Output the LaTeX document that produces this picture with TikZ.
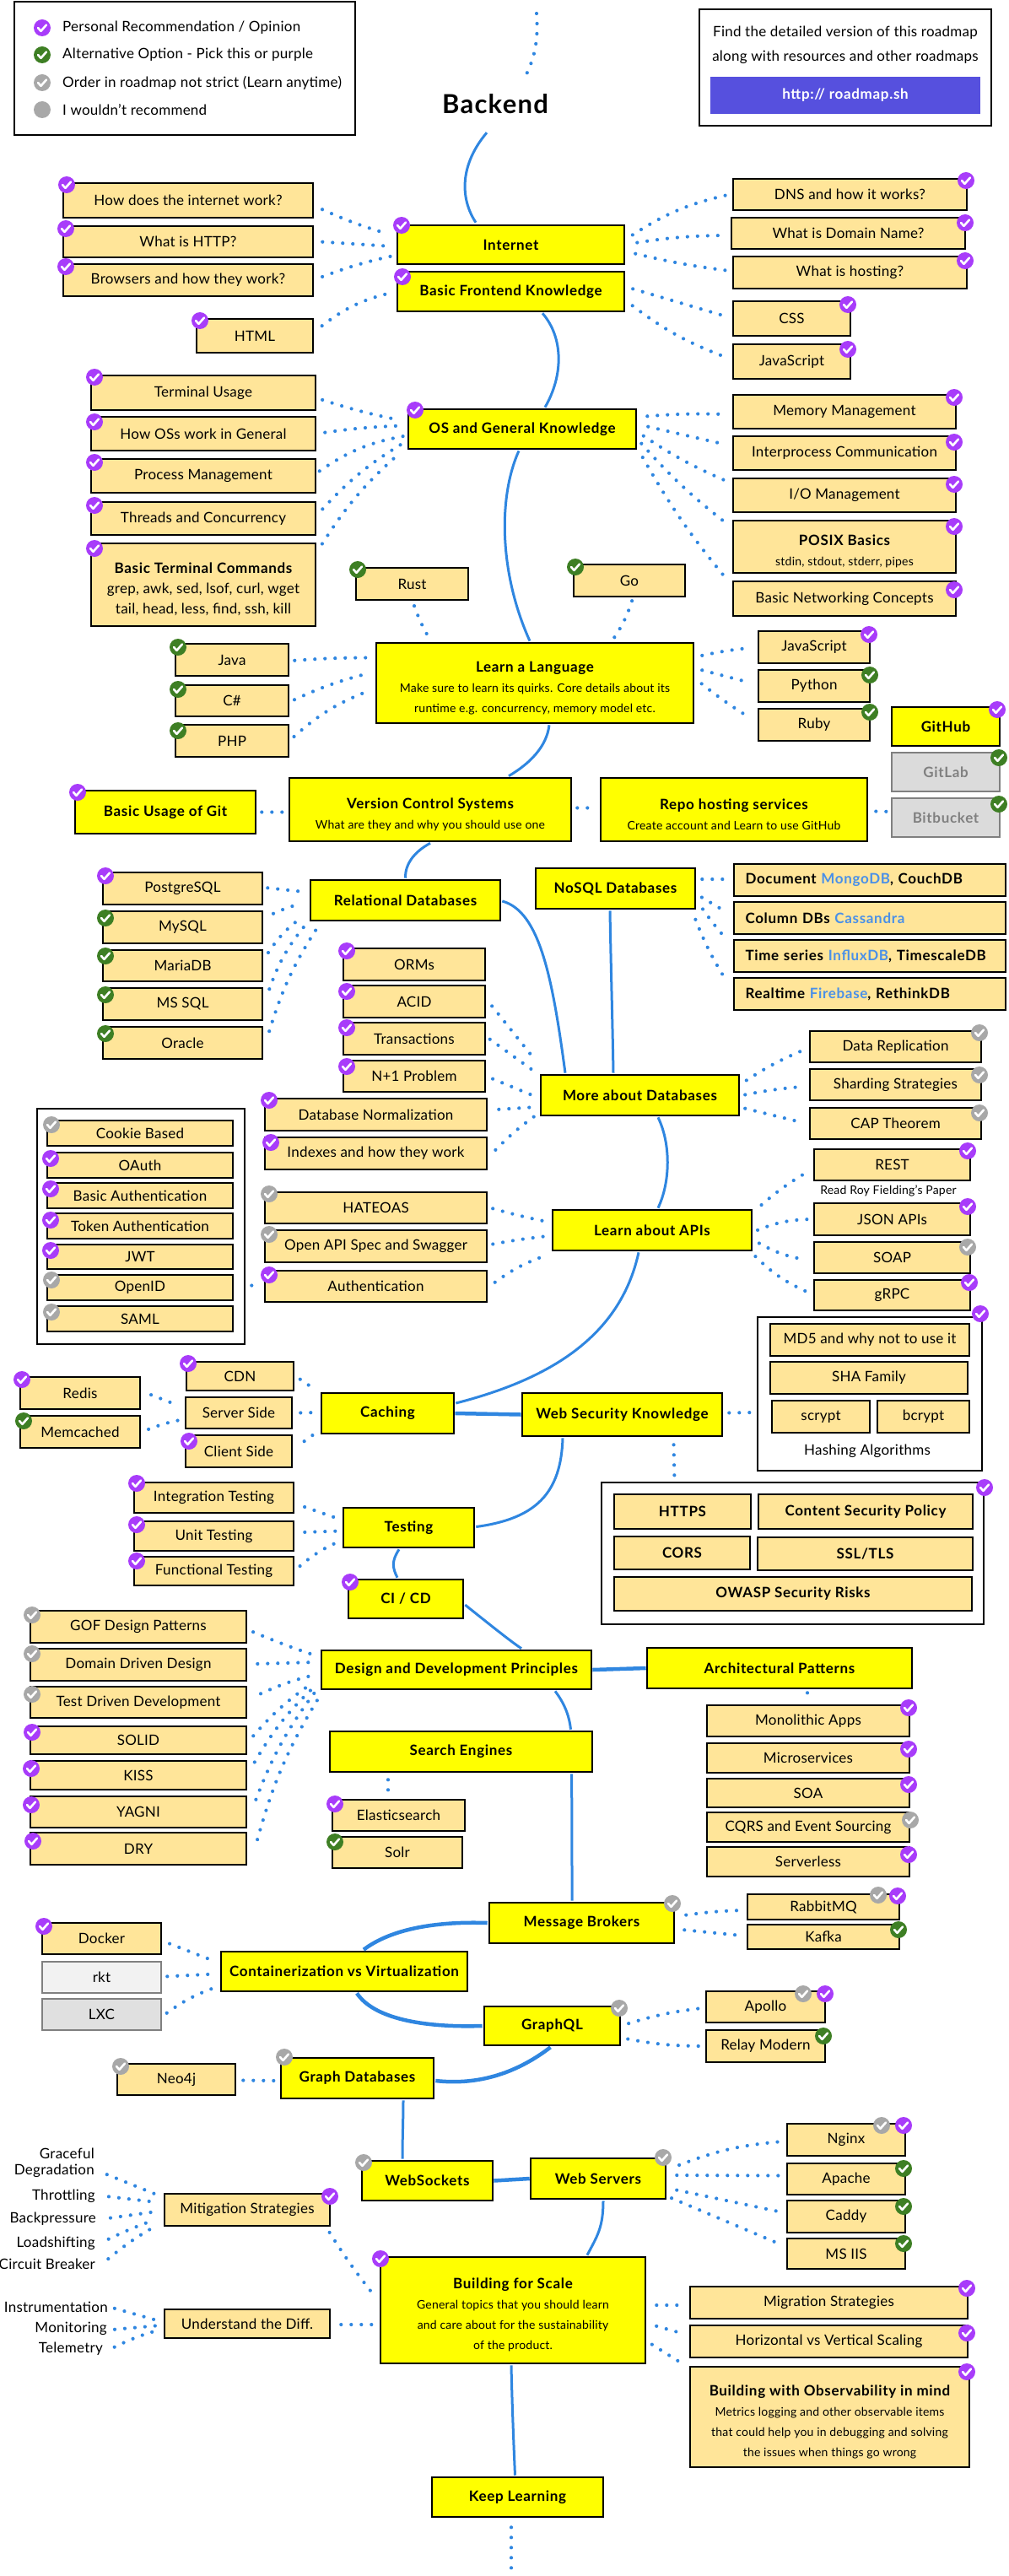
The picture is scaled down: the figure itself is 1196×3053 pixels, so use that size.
\documentclass[tikz,border=0pt]{standalone}
\usepackage{fontspec}
\setmainfont{Lato}[LetterSpace=1.5]
\newfontfamily\hb{Lato Bold}[LetterSpace=4]
\usetikzlibrary{calc}
\definecolor{tanc}{HTML}{FFE599}
\definecolor{yel}{HTML}{FFFF00}
\definecolor{lnk}{HTML}{2F86E0}
\definecolor{pur}{HTML}{A83CFA}
\definecolor{grn}{HTML}{3E7F24}
\definecolor{gry}{HTML}{A8A8A8}
\definecolor{navy}{HTML}{5650DE}
\definecolor{lblu}{HTML}{4A90E8}
\definecolor{edg}{HTML}{808080}
\newcommand\nf{\fontsize{17}{24}\selectfont}
\newcommand\smf{\fontsize{14}{24}\selectfont}
\newcommand\hd[1]{\rule{0pt}{24pt}{\hb\nf #1}}
\tikzset{
 base/.style={draw=black,line width=2.6pt,inner sep=0pt,align=center,font=\nf,text=black},
 tanb/.style={base,fill=tanc},
 yelb/.style={base,fill=yel,font=\hb\nf},
 ybox/.style={base,fill=yel},
 grayb/.style={base,draw=edg,fill=#1,text=edg},
 frame/.style={base,fill=white},
 lefttxt/.style={align=left,text width=295pt,inner xsep=13.5pt,minimum width=0pt,font=\hb\nf},
 plain/.style={inner sep=0pt,align=center,font=\nf,text=black},
 dotc/.style={draw=lnk,line width=4.2pt,line cap=round,dash pattern=on 0pt off 12pt,shorten <=3pt,shorten >=3pt},
 solc/.style={draw=lnk,line width=3pt},
 chk/.style={draw=white,line width=2.6pt,line cap=round,line join=round},
 badge/.style={circle,inner sep=0pt,minimum size=20pt,draw=none}
}
\newcount\bcnt
\newcommand\bx[7][tanb]{\node[#1,minimum width={(#5-#3)*1pt},minimum height={(#6-#4)*1pt}] (#2) at ({(#3+#5)/2},{(#4+#6)/2}) {#7};}
\newcommand\bdg[3]{\global\advance\bcnt by 1\node[badge,fill=#1] (bd\the\bcnt) at (#2,#3) {};\draw[chk,shift={(#2,#3)}] (-5,0) -- (-1.5,3.8) -- (5,-3.5);}
\newcommand\dotl[5]{\draw[dotc] ([shift={(#2)}]#1) to[bend left=#5] ([shift={(#4)}]#3);}
\newcommand\scv[6]{\draw[solc] ([shift={(#2)}]#1) .. controls (#5) and (#6) .. ([shift={(#4)}]#3);}
\begin{document}
\begin{tikzpicture}[x=1pt,y=-1pt]
\useasboundingbox (0,0) rectangle (1196,3053);
% legend
\bx[frame]{legend}{17}{2}{421}{160}{}
\node[plain,anchor=west] (l1) at (74,33) {Personal Recommendation / Opinion};
\node[plain,anchor=west] (l2) at (74,65) {Alternative Option - Pick this or purple};
\node[plain,anchor=west] (l3) at (74,98) {Order in roadmap not strict (Learn anytime)};
\node[plain,anchor=west] (l4) at (74,130) {I wouldn't recommend};
\bdg{pur}{50}{33}\bdg{grn}{50}{65}\bdg{gry}{50}{98}
\node[badge,fill=gry] (lg4) at (50,130) {};
% info
\bx[frame]{info}{829}{11}{1175}{149}{}
\node[plain] (i1) at (1002,39) {Find the detailed version of this roadmap};
\node[plain] (i2) at (1002,68) {along with resources and other roadmaps};
\node[draw=none,fill=navy,inner sep=0pt,minimum width=320pt,minimum height=44pt,text=white,font=\hb\nf] (i3) at (1002,113) {http:// roadmap.sh};
% title
\bx[plain,font=\hb\fontsize{31}{36}\selectfont]{backend}{520}{100}{654}{146}{Backend}
\coordinate (topa) at (636,16);
\coordinate (topb) at (624,88);
\draw[dotc,shorten <=0pt,shorten >=0pt] (topa) .. controls (638,45) and (635,65) .. (topb);
% boxes
\bx{how}{75}{217}{371}{258}{How does the internet work?}
\bx{http}{75}{268}{371}{305}{What is HTTP?}
\bx{brow}{75}{313}{371}{351}{Browsers and how they work?}
\bx[yelb]{internet}{471}{267}{740}{313}{Internet}
\bx[yelb]{basicfe}{471}{322}{740}{369}{Basic Frontend Knowledge}
\bx{html}{233}{378}{371}{418}{HTML}
\bx{dns}{869}{212}{1146}{249}{DNS and how it works?}
\bx{domain}{867}{258}{1144}{295}{What is Domain Name?}
\bx{hosting}{869}{304}{1146}{342}{What is hosting?}
\bx{css}{869}{357}{1008}{398}{CSS}
\bx{js}{869}{408}{1008}{449}{JavaScript}
\bx{term}{108}{445}{374}{486}{Terminal Usage}
\bx{howos}{108}{494}{374}{534}{How OSs work in General}
\bx[yelb]{os}{484}{485}{754}{532}{OS and General Knowledge}
\bx{mem}{869}{468}{1133}{508}{Memory Management}
\bx{proc}{108}{544}{374}{584}{Process Management}
\bx{thr}{108}{595}{374}{634}{Threads and Concurrency}
\bx{cmds}{108}{644}{374}{742}{\hd{Basic Terminal Commands}\\grep, awk, sed, lsof, curl, wget\\tail, head, less, find, ssh, kill}
\bx{ipc}{869}{517}{1133}{557}{Interprocess Communication}
\bx{io}{869}{567}{1133}{607}{I/O Management}
\bx{posix}{869}{617}{1133}{679}{\hd{POSIX Basics}\\\smf stdin, stdout, stderr, pipes}
\bx{net}{869}{689}{1133}{730}{Basic Networking Concepts}
\bx{rust}{422}{673}{555}{711}{Rust}
\bx{go}{680}{669}{812}{707}{Go}
\bx[ybox]{learn}{446}{762}{822}{857}{\hd{Learn a Language}\\\smf Make sure to learn its quirks. Core details about its\\\smf runtime e.g. concurrency, memory model etc.}
\bx{java}{208}{763}{342}{801}{Java}
\bx{csharp}{208}{812}{342}{849}{C\#}
\bx{php}{208}{859}{342}{897}{PHP}
\bx{ljs}{899}{748}{1031}{786}{JavaScript}
\bx{python}{899}{794}{1031}{832}{Python}
\bx{ruby}{899}{840}{1031}{878}{Ruby}
\bx[yelb]{github}{1057}{838}{1185}{884}{GitHub}
\bx[grayb=black!14,font=\hb\nf]{gitlab}{1057}{892}{1185}{938}{GitLab}
\bx[grayb=black!14,font=\hb\nf]{bitb}{1057}{946}{1185}{992}{Bitbucket}
\bx[yelb]{gitu}{89}{937}{303}{988}{Basic Usage of Git}
\bx[ybox]{vcs}{343}{922}{677}{997}{\hd{Version Control Systems}\\\smf What are they and why you should use one}
\bx[ybox]{repo}{712}{922}{1028}{997}{\hd{Repo hosting services}\\\smf Create account and Learn to use GitHub}
\bx{pg}{122}{1034}{311}{1072}{PostgreSQL}
\bx{mysql}{122}{1080}{311}{1118}{MySQL}
\bx{maria}{122}{1126}{311}{1163}{MariaDB}
\bx{mssql}{122}{1171}{311}{1209}{MS SQL}
\bx{oracle}{122}{1217}{311}{1255}{Oracle}
\bx[yelb]{rel}{368}{1043}{593}{1091}{Relational Databases}
\bx[yelb]{nosql}{635}{1029}{824}{1077}{NoSQL Databases}
\bx[tanb,lefttxt]{doc}{870}{1024}{1192}{1062}{Document \textcolor{lblu}{MongoDB}, CouchDB}
\bx[tanb,lefttxt]{col}{870}{1069}{1192}{1107}{Column DBs \textcolor{lblu}{Cassandra}}
\bx[tanb,lefttxt]{ts}{870}{1114}{1192}{1152}{Time series \textcolor{lblu}{InfluxDB}, TimescaleDB}
\bx[tanb,lefttxt]{rt}{870}{1159}{1192}{1197}{Realtime \textcolor{lblu}{Firebase}, RethinkDB}
\bx{orm}{407}{1124}{575}{1162}{ORMs}
\bx{acid}{407}{1168}{575}{1206}{ACID}
\bx{trans}{407}{1212}{575}{1250}{Transactions}
\bx{nplus}{407}{1257}{575}{1294}{N+1 Problem}
\bx{norm}{314}{1302}{577}{1340}{Database Normalization}
\bx{idx}{314}{1348}{577}{1386}{Indexes and how they work}
\bx[yelb]{more}{641}{1274}{876}{1322}{More about Databases}
\bx{repl}{960}{1222}{1163}{1259}{Data Replication}
\bx{shard}{960}{1267}{1163}{1304}{Sharding Strategies}
\bx{cap}{960}{1313}{1163}{1350}{CAP Theorem}
\bx{rest}{965}{1362}{1150}{1399}{REST}
\node[plain,font=\fontsize{14}{16}\selectfont] (roy) at (1053,1411) {Read Roy Fielding's Paper};
\bx{json}{965}{1426}{1150}{1464}{JSON APIs}
\bx{soap}{965}{1472}{1150}{1509}{SOAP}
\bx{grpc}{965}{1517}{1150}{1553}{gRPC}
\bx[frame]{authg}{44}{1314}{290}{1593}{}
\bx{cookie}{56}{1328}{276}{1358}{Cookie Based}
\bx{oauth}{56}{1366}{276}{1396}{OAuth}
\bx{basica}{56}{1402}{276}{1432}{Basic Authentication}
\bx{token}{56}{1438}{276}{1468}{Token Authentication}
\bx{jwt}{56}{1475}{276}{1504}{JWT}
\bx{oid}{56}{1511}{276}{1541}{OpenID}
\bx{saml}{56}{1548}{276}{1578}{SAML}
\bx{hate}{314}{1413}{577}{1450}{HATEOAS}
\bx{oapi}{314}{1458}{577}{1496}{Open API Spec and Swagger}
\bx{authn}{314}{1506}{577}{1543}{Authentication}
\bx[yelb]{apis}{655}{1434}{891}{1482}{Learn about APIs}
\bx{cdn}{221}{1614}{348}{1648}{CDN}
\bx{server}{220}{1656}{346}{1693}{Server Side}
\bx{client}{220}{1701}{346}{1739}{Client Side}
\bx{redis}{24}{1632}{166}{1670}{Redis}
\bx{memc}{24}{1678}{166}{1716}{Memcached}
\bx[yelb]{caching}{381}{1651}{538}{1699}{Caching}
\bx[yelb]{websec}{619}{1651}{856}{1702}{Web Security Knowledge}
\bx[frame]{hashg}{898}{1561}{1164}{1743}{}
\bx{md5}{913}{1569}{1149}{1607}{MD5 and why not to use it}
\bx{sha}{913}{1614}{1147}{1652}{SHA Family}
\bx{scrypt}{915}{1660}{1031}{1698}{scrypt}
\bx{bcrypt}{1040}{1660}{1149}{1698}{bcrypt}
\node[plain] (hashl) at (1028,1720) {Hashing Algorithms};
\bx[frame]{secg}{713}{1757}{1166}{1925}{}
\bx[tanb,font=\hb\nf]{https}{728}{1771}{890}{1812}{HTTPS}
\bx[tanb,font=\hb\nf]{csp}{899}{1771}{1153}{1812}{Content Security Policy}
\bx[tanb,font=\hb\nf]{cors}{728}{1821}{889}{1860}{CORS}
\bx[tanb,font=\hb\nf]{ssl}{898}{1822}{1153}{1861}{SSL/TLS}
\bx[tanb,font=\hb\nf]{owasp}{728}{1869}{1152}{1909}{OWASP Security Risks}
\bx{integ}{159}{1757}{348}{1793}{Integration Testing}
\bx{unit}{159}{1803}{348}{1838}{Unit Testing}
\bx{func}{159}{1845}{348}{1879}{Functional Testing}
\bx[yelb]{testing}{407}{1787}{562}{1834}{Testing}
\bx[yelb]{cicd}{413}{1872}{549}{1918}{CI / CD}
\bx{gof}{36}{1909}{292}{1947}{GOF Design Patterns}
\bx{ddd}{36}{1954}{292}{1992}{Domain Driven Design}
\bx{tdd}{36}{1999}{292}{2036}{Test Driven Development}
\bx{solid}{36}{2046}{292}{2079}{SOLID}
\bx{kiss}{36}{2087}{292}{2121}{KISS}
\bx{yagni}{36}{2129}{292}{2166}{YAGNI}
\bx{dry}{36}{2172}{292}{2210}{DRY}
\bx[yelb]{design}{381}{1956}{701}{2002}{Design and Development Principles}
\bx[yelb]{arch}{767}{1953}{1081}{2001}{Architectural Patterns}
\bx[yelb]{search}{391}{2052}{702}{2100}{Search Engines}
\bx{elastic}{394}{2133}{551}{2170}{Elasticsearch}
\bx{solr}{394}{2177}{548}{2214}{Solr}
\bx{mono}{838}{2021}{1078}{2058}{Monolithic Apps}
\bx{micro}{838}{2066}{1078}{2101}{Microservices}
\bx{soa}{838}{2108}{1078}{2142}{SOA}
\bx{cqrs}{838}{2148}{1078}{2183}{CQRS and Event Sourcing}
\bx{sls}{838}{2189}{1078}{2224}{Serverless}
\bx[yelb]{msg}{580}{2255}{799}{2303}{Message Brokers}
\bx{rabbit}{886}{2245}{1066}{2275}{RabbitMQ}
\bx{kafka}{886}{2281}{1066}{2310}{Kafka}
\bx{docker}{50}{2279}{191}{2316}{Docker}
\bx[grayb=black!5,text=black]{rkt}{50}{2325}{191}{2362}{rkt}
\bx[grayb=black!12,text=black]{lxc}{50}{2369}{191}{2406}{LXC}
\bx[yelb]{cont}{262}{2313}{554}{2360}{Containerization vs Virtualization}
\bx[yelb]{gql}{574}{2378}{735}{2424}{GraphQL}
\bx{apollo}{837}{2360}{978}{2397}{Apollo}
\bx{relay}{837}{2406}{978}{2444}{Relay Modern}
\bx{neo}{139}{2446}{279}{2483}{Neo4j}
\bx[yelb]{gdb}{333}{2439}{514}{2487}{Graph Databases}
\bx[yelb]{wsk}{429}{2561}{584}{2608}{WebSockets}
\bx[yelb]{wsv}{629}{2558}{789}{2606}{Web Servers}
\bx{nginx}{933}{2517}{1073}{2555}{Nginx}
\bx{apache}{933}{2564}{1073}{2601}{Apache}
\bx{caddy}{933}{2608}{1073}{2646}{Caddy}
\bx{iis}{933}{2653}{1073}{2689}{MS IIS}
\bx{mitig}{195}{2600}{391}{2638}{Mitigation Strategies}
\bx{diff}{195}{2737}{391}{2771}{Understand the Diff.}
\bx[ybox]{bfs}{451}{2675}{765}{2801}{\hd{Building for Scale}\\\smf General topics that you should learn\\\smf and care about for the sustainability\\\smf of the product.}
\bx{migr}{818}{2710}{1147}{2748}{Migration Strategies}
\bx{horiz}{818}{2756}{1147}{2794}{Horizontal vs Vertical Scaling}
\bx{obs}{818}{2805}{1149}{2924}{\hd{Building with Observability in mind}\\\smf Metrics logging and other observable items\\\smf that could help you in debugging and solving\\\smf the issues when things go wrong}
\bx[yelb]{keep}{512}{2936}{715}{2983}{Keep Learning}
% free labels
\node[plain,anchor=east] (gr) at (112,2552) {Graceful};
\node[plain,anchor=east] (deg) at (112,2573) {Degradation};
\node[plain,anchor=east] (thro) at (113,2603) {Throttling};
\node[plain,anchor=east] (back) at (114,2630) {Backpressure};
\node[plain,anchor=east] (load) at (113,2659) {Loadshifting};
\node[plain,anchor=east] (circ) at (113,2683) {Circuit Breaker};
\node[plain,anchor=east] (inst) at (128,2734) {Instrumentation};
\node[plain,anchor=east] (moni) at (127,2760) {Monitoring};
\node[plain,anchor=east] (tele) at (122,2784) {Telemetry};
\coordinate (botc) at (606,3053);
% solid connectors
\scv{backend.south}{-10,11}{internet.north}{-41.5,-2}{545,195}{545,235}
\scv{basicfe.south}{37.5,1}{os.north}{27,-1}{668,400}{668,445}
\scv{os.south}{-4,1}{learn.north}{-6,-1}{590,590}{592,680}
\scv{learn.south}{17,1}{vcs.north}{93,-1}{648,885}{628,905}
\scv{vcs.south}{0,1}{rel.north}{0,-1}{490,1010}{480,1025}
\scv{rel.east}{1,1}{more.north}{-88.5,-1}{640,1080}{655,1160}
\scv{nosql.south}{-6.5,1}{more.north}{-31.5,-1}{724,1140}{726,1210}
\scv{more.south}{21.5,1}{apis.north}{7,-1}{795,1355}{795,1400}
\scv{apis.south}{-16,1}{caching.east}{1,-12}{735,1585}{650,1635}
\draw[solc,line width=4.5pt] (caching.east) -- (websec.west);
\scv{websec.south}{-70.5,1}{testing.east}{1,-1}{665,1770}{635,1800}
\scv{testing.south}{-11.5,1}{cicd.north}{-10,-1}{464,1850}{465,1858}
\scv{cicd.east}{1,7}{design.north}{77,-1}{580,1925}{605,1945}
\draw[solc,line width=4.5pt] (design.east) -- (arch.west);
\scv{design.south}{117,1}{search.north}{130,-1}{670,2020}{675,2035}
\scv{search.south}{131,1}{msg.north}{-11.5,-1}{678,2150}{678,2200}
\draw[solc,line width=4.5pt] ([shift={(-1,0)}]msg.west) .. controls (520,2277) and (465,2285) .. ([shift={(23,-1)}]cont.north);
\draw[solc,line width=4.5pt] ([shift={(15,1)}]cont.south) .. controls (445,2395) and (510,2403) .. ([shift={(-1,0)}]gql.west);
\draw[solc,line width=4.5pt] ([shift={(-2,1)}]gql.south) .. controls (615,2455) and (570,2472) .. ([shift={(1,3)}]gdb.east);
\scv{gdb.south}{54.5,1}{wsk.north}{-29.5,-1}{478,2510}{477,2535}
\draw[solc,line width=4.5pt] (wsk.east) -- (wsv.west);
\scv{wsv.south}{6,1}{bfs.north}{88,-1}{715,2640}{708,2650}
\scv{bfs.south}{-2,1}{keep.north}{-3,-1}{607,2850}{609,2900}
% dotted connectors
\dotl{how.east}{7,9.5}{internet.west}{-7,-12}{-4}
\dotl{http.east}{7,0}{internet.west}{-5,2}{0}
\dotl{brow.east}{7,-3}{internet.west}{-3,13}{4}
\dotl{html.east}{7,-10}{basicfe.west}{-4,1}{12}
\dotl{internet.east}{6,-10}{dns.west}{-3,0}{10}
\dotl{internet.east}{11,-2}{domain.west}{-7,2.5}{4}
\dotl{internet.east}{9,10}{hosting.west}{-3,-2}{-3}
\dotl{basicfe.east}{6,-4}{css.west}{-7,-2.5}{0}
\dotl{basicfe.east}{6,15}{js.west}{-7,-5}{-8}
\dotl{term.east}{4,7.5}{os.west}{-11,-11}{-3}
\dotl{howos.east}{7,-1}{os.west}{-4,-4}{3}
\dotl{proc.east}{1,-4}{os.west}{-2,8}{12}
\dotl{thr.east}{5,-9}{os.west}{-2,15}{8}
\dotl{cmds.east}{5,-46}{os.west}{-6,26}{8}
\dotl{os.east}{9,-15}{mem.west}{-9,3}{3}
\dotl{os.east}{10,-3.5}{ipc.west}{-7,-10}{0}
\dotl{os.east}{5,6.5}{io.west}{-7,-17}{-5}
\dotl{os.east}{3,15}{posix.west}{-7,-28}{-5}
\dotl{os.east}{5,31}{net.west}{-3,-19}{-5}
\dotl{rust.south}{1.5,3}{learn.north}{-124,-2}{-5}
\dotl{go.south}{4,1}{learn.north}{92,-2}{8}
\dotl{java.east}{3,1}{learn.west}{-5,-30}{2}
\dotl{csharp.east}{3,0}{learn.west}{-10,-11}{5}
\dotl{php.east}{3,-3}{learn.west}{-7,9}{10}
\dotl{learn.east}{6,-32}{ljs.west}{-10,1}{3}
\dotl{learn.east}{6,-16}{python.west}{-5,-3}{0}
\dotl{learn.east}{6,-1}{ruby.west}{-10,-9}{-3}
\dotl{gitu.east}{3,0}{vcs.west}{-3,3}{0}
\dotl{vcs.east}{3,-2}{repo.west}{-2,-2}{0}
\dotl{repo.east}{6,2}{bitb.west}{3,-7}{0}
\dotl{pg.east}{2,-1}{rel.west}{-6,-10}{0}
\dotl{mysql.east}{9,-15}{rel.west}{-6,3}{5}
\dotl{maria.east}{4,-13}{rel.west}{-6,18}{10}
\dotl{mssql.east}{6,-15}{rel.west}{-2,26}{10}
\dotl{oracle.east}{6,-11}{rel.south}{-101,2}{8}
\dotl{nosql.east}{4,-11}{doc.west}{-8,-1}{0}
\dotl{nosql.east}{4,9}{col.west}{-6,-6}{0}
\dotl{nosql.east}{6,22}{ts.west}{-6,-18}{-3}
\dotl{nosql.east}{-2,34}{rt.west}{-8,-16}{-5}
\dotl{acid.east}{5,3}{more.west}{-4,-40}{0}
\dotl{trans.east}{2,-1}{more.west}{-6,-28}{0}
\dotl{nplus.east}{5,2}{more.west}{-4,2}{0}
\dotl{norm.east}{10,-6}{more.west}{-4,14}{0}
\dotl{idx.east}{7,-2}{more.west}{-2,22}{5}
\dotl{more.east}{5,-16}{repl.west}{-4,3}{5}
\dotl{more.east}{3,0}{shard.west}{-9,2.5}{3}
\dotl{more.east}{3,15}{cap.west}{-9,-1.5}{0}
\dotl{hate.east}{3,0}{apis.west}{-5,-10}{-2}
\dotl{oapi.east}{3,-2}{apis.west}{-5,7}{2}
\dotl{authn.east}{6,-3}{apis.west}{-7,30}{8}
\dotl{authg.east}{4,70}{authn.west}{0,-1}{0}
\dotl{apis.east}{8,-28}{rest.west}{-6,8}{5}
\dotl{apis.east}{3,1}{json.west}{-4,0}{10}
\dotl{apis.east}{5,14}{soap.west}{-5,3}{-10}
\dotl{apis.east}{1,29}{grpc.west}{-5,-3}{-10}
\dotl{cdn.east}{4,2}{caching.west}{-6,-28}{0}
\dotl{server.east}{6,0}{caching.west}{-3,-1}{0}
\dotl{client.east}{11,-10}{caching.west}{-3,22}{3}
\dotl{redis.east}{9,1}{server.west}{-8,-9}{0}
\dotl{memc.east}{6,-2}{server.west}{-3,8}{5}
\dotl{websec.east}{4,-2}{hashg.west}{-4,22}{0}
\dotl{websec.south}{61,6}{secg.north}{-140,-1}{0}
\dotl{integ.east}{9,10}{testing.west}{-3,-10}{0}
\dotl{unit.east}{9,-4.5}{testing.west}{-3,4}{0}
\dotl{func.east}{4,-4}{testing.west}{-3,16}{8}
\dotl{gof.east}{4,5}{design.west}{-6,-17}{-2}
\dotl{ddd.east}{9,-1}{design.west}{-7,-9}{0}
\dotl{tdd.east}{13,-9}{design.west}{-7,6}{5}
\dotl{solid.east}{5,-3}{design.west}{-7,14}{7}
\dotl{kiss.east}{7,-13}{design.west}{-5,18}{8}
\dotl{yagni.east}{9,-12}{design.west}{-3,22}{8}
\dotl{dry.east}{11,-8}{design.south}{-159,2}{8}
\dotl{arch.south}{33,1}{mono.north}{-1,0}{0}
\dotl{search.south}{-86.5,5}{elastic.north}{-12.5,-3}{0}
\dotl{msg.east}{10,-9}{rabbit.west}{-5,4}{3}
\dotl{msg.east}{8,8}{kafka.west}{-5,-1.5}{0}
\dotl{docker.east}{6,5}{cont.west}{-6,-12}{0}
\dotl{rkt.east}{3,-1}{cont.west}{-6,3}{0}
\dotl{lxc.east}{3,0}{cont.west}{-3,18}{8}
\dotl{gql.east}{6,-2}{apollo.west}{-4,1.5}{5}
\dotl{gql.east}{5,15}{relay.west}{-4,0}{-5}
\dotl{neo.east}{5,1}{gdb.west}{-4,3}{0}
\dotl{wsv.east}{12,-15}{nginx.west}{-4,2}{8}
\dotl{wsv.east}{9,-4}{apache.west}{-4,-4}{0}
\dotl{wsv.east}{9,13}{caddy.west}{-4,-5}{0}
\dotl{wsv.east}{3,22}{iis.west}{-4,-10}{0}
\dotl{deg.east}{12,3}{mitig.west}{-8,-18}{0}
\dotl{thro.east}{13,0}{mitig.west}{-8,-9}{0}
\dotl{back.east}{14,-1}{mitig.west}{-8,2}{0}
\dotl{load.east}{13,-4}{mitig.west}{-8,11}{3}
\dotl{circ.east}{13,-4}{mitig.west}{-7,18}{5}
\dotl{inst.east}{5,1}{diff.west}{-4,-3}{0}
\dotl{moni.east}{6,1}{diff.west}{-4,2}{0}
\dotl{tele.east}{11,-1}{diff.west}{-4,7}{5}
\dotl{diff.east}{9,1}{bfs.west}{-3,17}{0}
\dotl{mitig.south}{96,4}{bfs.west}{-5,-16}{-3}
\dotl{bfs.east}{9,-6}{migr.west}{-6,3}{0}
\dotl{bfs.east}{9,18}{horiz.west}{-6,-9}{0}
\dotl{bfs.east}{4,39}{obs.west}{-6,-62}{0}
\dotl{keep.south}{-7.5,8}{botc}{0,0}{0}
% badges
\bdg{pur}{79}{219}\bdg{pur}{78}{271}\bdg{pur}{78}{316}\bdg{pur}{476}{267}\bdg{pur}{477}{328}\bdg{pur}{237}{380}
\bdg{pur}{1145}{214}\bdg{pur}{1144}{264}\bdg{pur}{1144}{309}\bdg{pur}{1005}{361}\bdg{pur}{1005}{414}
\bdg{pur}{112}{447}\bdg{pur}{112}{500}\bdg{pur}{492}{486}\bdg{pur}{1131}{471}\bdg{pur}{112}{548}\bdg{pur}{112}{599}\bdg{pur}{112}{650}
\bdg{pur}{1131}{524}\bdg{pur}{1131}{574}\bdg{pur}{1131}{624}\bdg{pur}{1131}{699}
\bdg{grn}{424}{675}\bdg{grn}{682}{672}\bdg{grn}{211}{767}\bdg{grn}{211}{817}\bdg{grn}{211}{866}
\bdg{pur}{1030}{752}\bdg{grn}{1031}{800}\bdg{grn}{1031}{844}\bdg{pur}{1182}{841}\bdg{grn}{1184}{898}\bdg{grn}{1184}{953}\bdg{pur}{92}{939}
\bdg{pur}{125}{1038}\bdg{grn}{125}{1088}\bdg{grn}{125}{1133}\bdg{grn}{125}{1179}\bdg{grn}{125}{1225}
\bdg{pur}{411}{1127}\bdg{pur}{411}{1175}\bdg{pur}{411}{1218}\bdg{pur}{411}{1264}\bdg{pur}{319}{1304}\bdg{pur}{321}{1354}
\bdg{gry}{1161}{1224}\bdg{gry}{1161}{1274}\bdg{gry}{1161}{1319}
\bdg{pur}{1147}{1364}\bdg{pur}{1147}{1430}\bdg{gry}{1147}{1478}\bdg{pur}{1149}{1520}
\bdg{gry}{61}{1333}\bdg{pur}{60}{1373}\bdg{pur}{60}{1409}\bdg{pur}{60}{1446}\bdg{pur}{60}{1482}\bdg{gry}{61}{1517}\bdg{gry}{61}{1555}
\bdg{gry}{319}{1415}\bdg{gry}{319}{1463}\bdg{pur}{319}{1511}
\bdg{pur}{223}{1616}\bdg{pur}{224}{1708}\bdg{pur}{26}{1635}\bdg{grn}{28}{1684}
\bdg{pur}{1162}{1557}\bdg{pur}{1167}{1763}
\bdg{pur}{162}{1758}\bdg{pur}{162}{1807}\bdg{pur}{162}{1850}\bdg{pur}{415}{1875}
\bdg{gry}{38}{1914}\bdg{gry}{38}{1960}\bdg{gry}{38}{2008}\bdg{pur}{38}{2053}\bdg{pur}{37}{2096}\bdg{pur}{37}{2139}\bdg{pur}{39}{2182}
\bdg{pur}{397}{2138}\bdg{grn}{397}{2183}
\bdg{pur}{1077}{2024}\bdg{pur}{1077}{2073}\bdg{pur}{1077}{2115}\bdg{gry}{1079}{2157}\bdg{pur}{1077}{2198}
\bdg{gry}{797}{2256}\bdg{gry}{1041}{2246}\bdg{pur}{1064}{2247}\bdg{grn}{1065}{2287}\bdg{pur}{52}{2283}
\bdg{gry}{734}{2380}\bdg{gry}{952}{2363}\bdg{pur}{978}{2363}\bdg{grn}{976}{2413}\bdg{gry}{143}{2449}\bdg{gry}{337}{2438}
\bdg{gry}{431}{2563}\bdg{gry}{786}{2557}\bdg{gry}{1045}{2519}\bdg{pur}{1071}{2519}\bdg{grn}{1071}{2570}\bdg{grn}{1071}{2615}\bdg{grn}{1071}{2659}
\bdg{pur}{391}{2603}\bdg{pur}{451}{2677}\bdg{pur}{1146}{2712}\bdg{pur}{1146}{2765}\bdg{pur}{1146}{2811}
\end{tikzpicture}
\end{document}
